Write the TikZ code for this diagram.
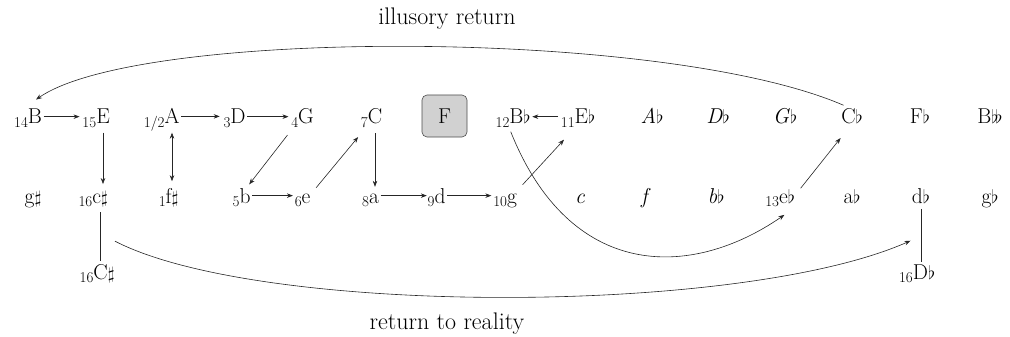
\documentclass[tikz,border=0pt]{standalone}
\usetikzlibrary{arrows.meta,calc}
\usepackage{graphicx}
\newcommand{\nsub}[1]{\llap{\smash{\raisebox{-3.5pt}{\fontsize{15}{15}\selectfont #1}}}}
\newcommand{\fl}{\scalebox{0.9}{$\flat$}}
\newcommand{\shp}{\scalebox{0.85}{$\sharp$}}
\begin{document}
\begin{tikzpicture}[x=1pt,y=-1pt,
  n/.style={font=\fontsize{21.5}{25}\selectfont, inner sep=1.5pt, anchor=base},
  lab/.style={font=\fontsize{24}{28}\selectfont, inner sep=0pt, anchor=base},
  fbox/.style={draw=black!70, fill=black!18, rounded corners=5pt, minimum width=45pt, minimum height=42pt, inner sep=0pt, font=\fontsize{21.5}{25}\selectfont, line width=0.6pt},
  arr/.style={draw=black!85, line width=0.6pt, -{Stealth[length=6pt,width=4.5pt]}},
  darr/.style={draw=black!85, line width=0.6pt, {Stealth[length=6pt,width=4.5pt]}-{Stealth[length=6pt,width=4.5pt]}},
  ln/.style={draw=black!85, line width=0.6pt}]
\useasboundingbox (0,0) rectangle (1010,337);

% top row
\node[n] (B) at (35,124) {\nsub{14}B};
\node[n] (E) at (103,124) {\nsub{15}E};
\node[n] (A) at (172,124) {\nsub{1/2}A};
\node[n] (D) at (238,124) {\nsub{3}D};
\node[n] (G) at (306,124) {\nsub{4}G};
\node[n] (C) at (375,124) {\nsub{7}C};
\node[fbox] (F) at (444.5,116) {F};
\node[n] (Bb) at (520,124) {\nsub{12}B\fl};
\node[n] (Eb) at (585,124) {\nsub{11}E\fl};
\node[n] (Ab) at (652,124) {\textit{A}\fl};
\node[n] (Dbu) at (718,124) {\textit{D}\fl};
\node[n] (Gb) at (785,124) {\textit{G}\fl};
\node[n] (Cb) at (852,124) {C\fl};
\node[n] (Fb) at (920,124) {F\fl};
\node[n] (Bbb) at (990,124) {B\scalebox{0.9}{$\flat\!\flat$}};

% middle row
\node[n] (gs) at (33,203) {g\shp};
\node[n] (cs) at (100,203) {\nsub{16}c\shp};
\node[n] (fs) at (172,203) {\nsub{1}f\shp};
\node[n] (b) at (245,203) {\nsub{5}b};
\node[n] (e) at (306,203) {\nsub{6}e};
\node[n] (a) at (374,203) {\nsub{8}a};
\node[n] (d) at (440,203) {\nsub{9}d};
\node[n] (g) at (512,203) {\nsub{10}g};
\node[n] (c) at (580,203) {\textit{c}};
\node[n] (f) at (646,203) {\textit{f}};
\node[n] (bb) at (716,203) {\textit{b}\fl};
\node[n] (eb) at (787,203) {\nsub{13}e\fl};
\node[n] (ab) at (852,203) {a\fl};
\node[n] (db) at (921,203) {d\fl};
\node[n] (gb) at (990,203) {g\fl};

% bottom row
\node[n] (Cs) at (104,279) {\nsub{16}C\shp};
\node[n] (Dbl) at (924,279) {\nsub{16}D\fl};

% labels
\node[lab] (top) at (447,25) {illusory return};
\node[lab] (bot) at (447,329) {return to reality};

% horizontal arrows
\draw[arr, shorten >=15pt] (B.east) -- (B.east -| E.west);
\draw[arr, shorten >=9pt] (A.east) -- (A.east -| D.west);
\draw[arr, shorten >=8pt] (D.east) -- (D.east -| G.west);
\draw[arr, shorten >=7pt] (b.east) -- (b.east -| e.west);
\draw[arr, shorten >=6pt] (a.east |- d.west) -- (d.west);
\draw[arr, shorten >=14pt] (d.east) -- (d.east -| g.west);
\draw[arr, shorten <=15pt] (Eb.west) -- (Eb.west -| Bb.east);

% vertical arrows and lines
\draw[arr, shorten <=7pt, shorten >=5pt] (E.south) -- (E.south |- cs.north);
\draw[darr, shorten <=7pt, shorten >=5pt] (A.south) -- (A.south |- fs.north);
\draw[arr, shorten <=7pt, shorten >=5pt] (C.south) -- (C.south |- a.north);
\draw[ln, shorten <=4pt, shorten >=1pt] (cs.south) -- (cs.south |- Cs.north);
\draw[ln, shorten <=4pt, shorten >=1pt] (db.south) -- (db.south |- Dbl.north);

% diagonals
\draw[arr] ($(G.south west)+(-9,9)$) -- ($(b.north east)+(-3,-2)$);
\draw[arr] ($(e.north east)+(4,-4)$) -- ($(C.south west)+(-8,11)$);
\draw[arr] ($(g.north east)+(4,-7)$) -- ($(Eb.south west)+(-9,14)$);
\draw[arr] ($(eb.north east)+(4,1)$) -- ($(Cb.south west)+(1,12)$);

% curves
\draw[arr] ($(Bb.south west)+(3,6)$) .. controls (570,280) and (690,280) .. ($(eb.south west)+(7,10)$);
\draw[arr] ($(Cb.north west)+(4,-2)$) .. controls (665,28) and (139,28) .. ($(B.north)+(1,-8)$);
\coordinate (cmid) at ($(cs.south)!.5!(Cs.north)$);
\coordinate (dmid) at ($(db.south)!.5!(Dbl.north)$);
\draw[arr] ($(cmid)+(13,6)$) .. controls (260,316) and (740,316) .. ($(dmid)+(-12,7)$);
\end{tikzpicture}
\end{document}
